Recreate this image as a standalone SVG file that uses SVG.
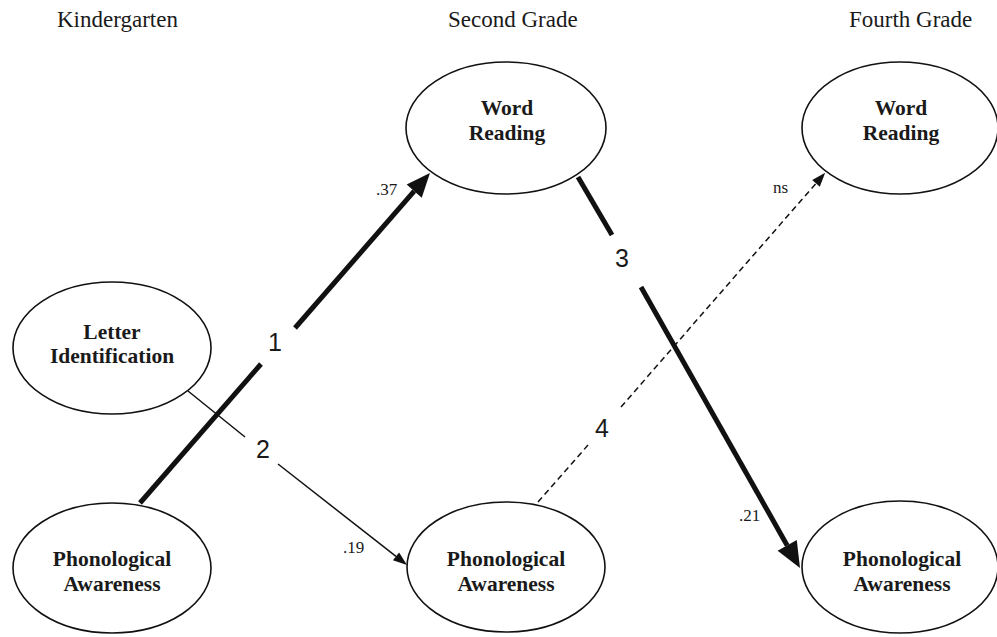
<svg xmlns="http://www.w3.org/2000/svg" width="997" height="637" viewBox="0 0 997 637">
<style>
.bg{fill:#fff}
.node{fill:#fff;stroke:#111;stroke-width:1.6}
.nt{font-family:"Liberation Serif","Times New Roman",serif;font-weight:bold;font-size:21.5px;fill:#1a1a1a;text-anchor:middle}
.hd{font-family:"Liberation Serif","Times New Roman",serif;font-size:23px;fill:#1a1a1a}
.coef{font-family:"Liberation Serif","Times New Roman",serif;font-size:17px;fill:#1a1a1a}
.num{font-family:"Liberation Sans",Arial,sans-serif;font-size:25px;fill:#1a1a1a;text-anchor:middle}
.thick{stroke:#111;stroke-width:5;fill:none}
.thin{stroke:#111;stroke-width:1.5;fill:none}
.dash{stroke:#111;stroke-width:1.5;fill:none;stroke-dasharray:6 4}
</style>
<defs>
<marker id="bigHead" markerUnits="userSpaceOnUse" markerWidth="30" markerHeight="30" viewBox="0 -15 30 30" refX="0" refY="0" orient="auto" overflow="visible">
<path d="M0,-10 L24,0 L0,10 z" fill="#111"/>
</marker>
<marker id="bigHead3" markerUnits="userSpaceOnUse" markerWidth="30" markerHeight="30" viewBox="0 -15 30 30" refX="0" refY="0" orient="auto" overflow="visible">
<path d="M0,-11 L26,0 L0,11 z" fill="#111"/>
</marker>
<marker id="smallHead" markerUnits="userSpaceOnUse" markerWidth="20" markerHeight="20" viewBox="0 -10 20 20" refX="0" refY="0" orient="auto" overflow="visible">
<path d="M0,-5 L14,0 L0,5 z" fill="#111"/>
</marker>
</defs>
<rect class="bg" x="0" y="0" width="997" height="637"/>

<g id="headers">
<text class="hd" x="57" y="27">Kindergarten</text>
<text class="hd" x="448" y="27">Second Grade</text>
<text class="hd" x="849" y="27">Fourth Grade</text>
</g>

<g id="connectors">
<!-- 1: K PA -> 2nd Word Reading -->
<line class="thick" x1="140" y1="503" x2="261" y2="364"/>
<line class="thick" x1="295" y1="328" x2="414.2" y2="191.1" marker-end="url(#bigHead)"/>
<text class="num" x="275" y="351">1</text>
<text class="coef" x="376" y="195">.37</text>
<!-- 2: Letter ID -> 2nd PA -->
<line class="thin" x1="188" y1="391" x2="245" y2="437"/>
<line class="thin" x1="278" y1="464" x2="396" y2="556.4" marker-end="url(#smallHead)"/>
<text class="num" x="263" y="458">2</text>
<text class="coef" x="343" y="553">.19</text>
<!-- 3: 2nd WR -> 4th PA -->
<line class="thick" x1="578" y1="177" x2="612" y2="235"/>
<line class="thick" x1="641" y1="287" x2="787.2" y2="545.4" marker-end="url(#bigHead3)"/>
<text class="num" x="622" y="267">3</text>
<text class="coef" x="739" y="521">.21</text>
<!-- 4: 2nd PA -> 4th WR (ns) -->
<line class="dash" x1="538" y1="502" x2="588" y2="445"/>
<line class="dash" x1="621" y1="407" x2="816" y2="183.4" marker-end="url(#smallHead)"/>
<text class="num" x="602" y="437">4</text>
<text class="coef" x="773" y="193">ns</text>
</g>

<g id="letter-identification">
<ellipse class="node" cx="112" cy="348" rx="99" ry="66"/>
<text class="nt" x="112" y="339">Letter</text>
<text class="nt" x="112" y="363">Identification</text>
</g>
<g id="pa-kindergarten">
<ellipse class="node" cx="112" cy="568" rx="99" ry="65"/>
<text class="nt" x="112" y="566">Phonological</text>
<text class="nt" x="112" y="591">Awareness</text>
</g>
<g id="wr-second">
<ellipse class="node" cx="506" cy="128" rx="100" ry="66"/>
<text class="nt" x="507" y="115">Word</text>
<text class="nt" x="507" y="140">Reading</text>
</g>
<g id="pa-second">
<ellipse class="node" cx="506" cy="567" rx="99" ry="65"/>
<text class="nt" x="506" y="566">Phonological</text>
<text class="nt" x="506" y="591">Awareness</text>
</g>
<g id="wr-fourth">
<ellipse class="node" cx="900" cy="128" rx="98" ry="66"/>
<text class="nt" x="901" y="115">Word</text>
<text class="nt" x="901" y="140">Reading</text>
</g>
<g id="pa-fourth">
<ellipse class="node" cx="900" cy="567" rx="98" ry="66"/>
<text class="nt" x="902" y="566">Phonological</text>
<text class="nt" x="902" y="591">Awareness</text>
</g>
</svg>
